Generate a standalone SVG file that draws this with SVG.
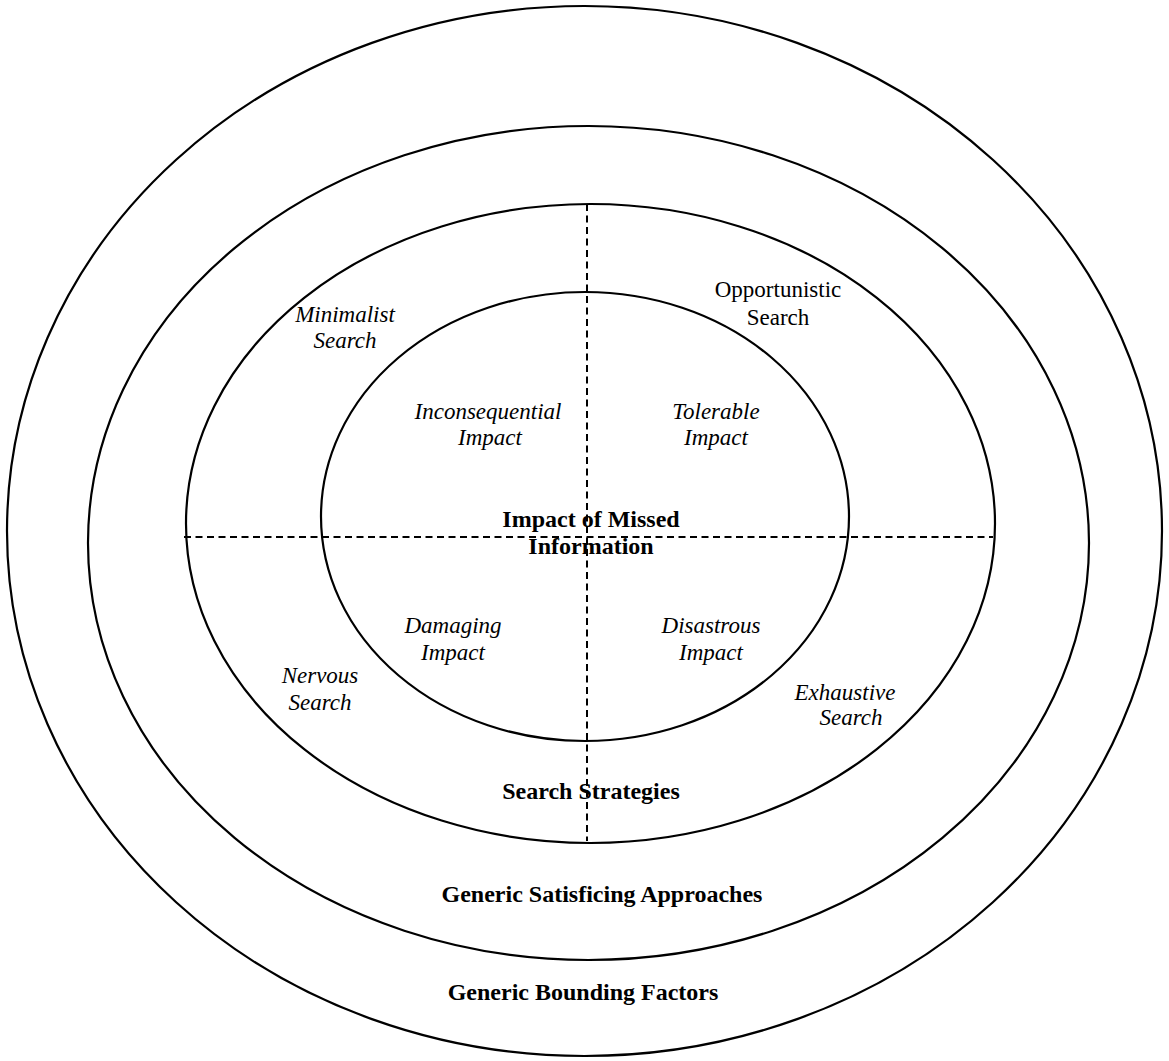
<svg xmlns="http://www.w3.org/2000/svg" width="1169" height="1061" viewBox="0 0 1169 1061">
<style>
.ring{fill:none;stroke:#000;stroke-width:2.2}
.dash{fill:none;stroke:#000;stroke-width:2;stroke-dasharray:7 4.5}
text{font-family:"Liberation Serif","Times New Roman",serif;fill:#000;text-anchor:middle}
.it{font-style:italic;font-size:23px}
.rg{font-size:23px}
.bd{font-weight:bold;font-size:24px}
</style>
<rect width="1169" height="1061" fill="#fff"/>
<g id="bounding-factors">
<ellipse class="ring" cx="584.5" cy="531" rx="577.5" ry="525"/>
<text class="bd" x="583" y="1000">Generic Bounding Factors</text>
</g>
<g id="satisficing-approaches">
<ellipse class="ring" cx="588.5" cy="543" rx="500.5" ry="417"/>
<text class="bd" x="602" y="902">Generic Satisficing Approaches</text>
</g>
<g id="search-strategies">
<ellipse class="ring" cx="590.5" cy="523.5" rx="404.5" ry="319.5"/>
<text class="bd" x="591" y="799">Search Strategies</text>
</g>
<g id="impact">
<ellipse class="ring" cx="585" cy="516.5" rx="264" ry="224.5"/>
<text class="bd" x="591" y="527">Impact of Missed</text>
<text class="bd" x="591" y="554">Information</text>
</g>
<g id="connectors">
<line class="dash" x1="587" y1="204" x2="587" y2="841"/>
<line class="dash" x1="184" y1="537" x2="993" y2="537"/>
</g>
<g id="minimalist-search">
<text class="it" x="345" y="322">Minimalist</text>
<text class="it" x="345" y="348">Search</text>
</g>
<g id="opportunistic-search">
<text class="rg" x="778" y="297">Opportunistic</text>
<text class="rg" x="778" y="325">Search</text>
</g>
<g id="inconsequential-impact">
<text class="it" x="488" y="419">Inconsequential</text>
<text class="it" x="490" y="445">Impact</text>
</g>
<g id="tolerable-impact">
<text class="it" x="716" y="419">Tolerable</text>
<text class="it" x="716" y="445">Impact</text>
</g>
<g id="damaging-impact">
<text class="it" x="453" y="633">Damaging</text>
<text class="it" x="453" y="660">Impact</text>
</g>
<g id="disastrous-impact">
<text class="it" x="711" y="633">Disastrous</text>
<text class="it" x="711" y="660">Impact</text>
</g>
<g id="nervous-search">
<text class="it" x="320" y="683">Nervous</text>
<text class="it" x="320" y="710">Search</text>
</g>
<g id="exhaustive-search">
<text class="it" x="845" y="700">Exhaustive</text>
<text class="it" x="851" y="725">Search</text>
</g>
</svg>
